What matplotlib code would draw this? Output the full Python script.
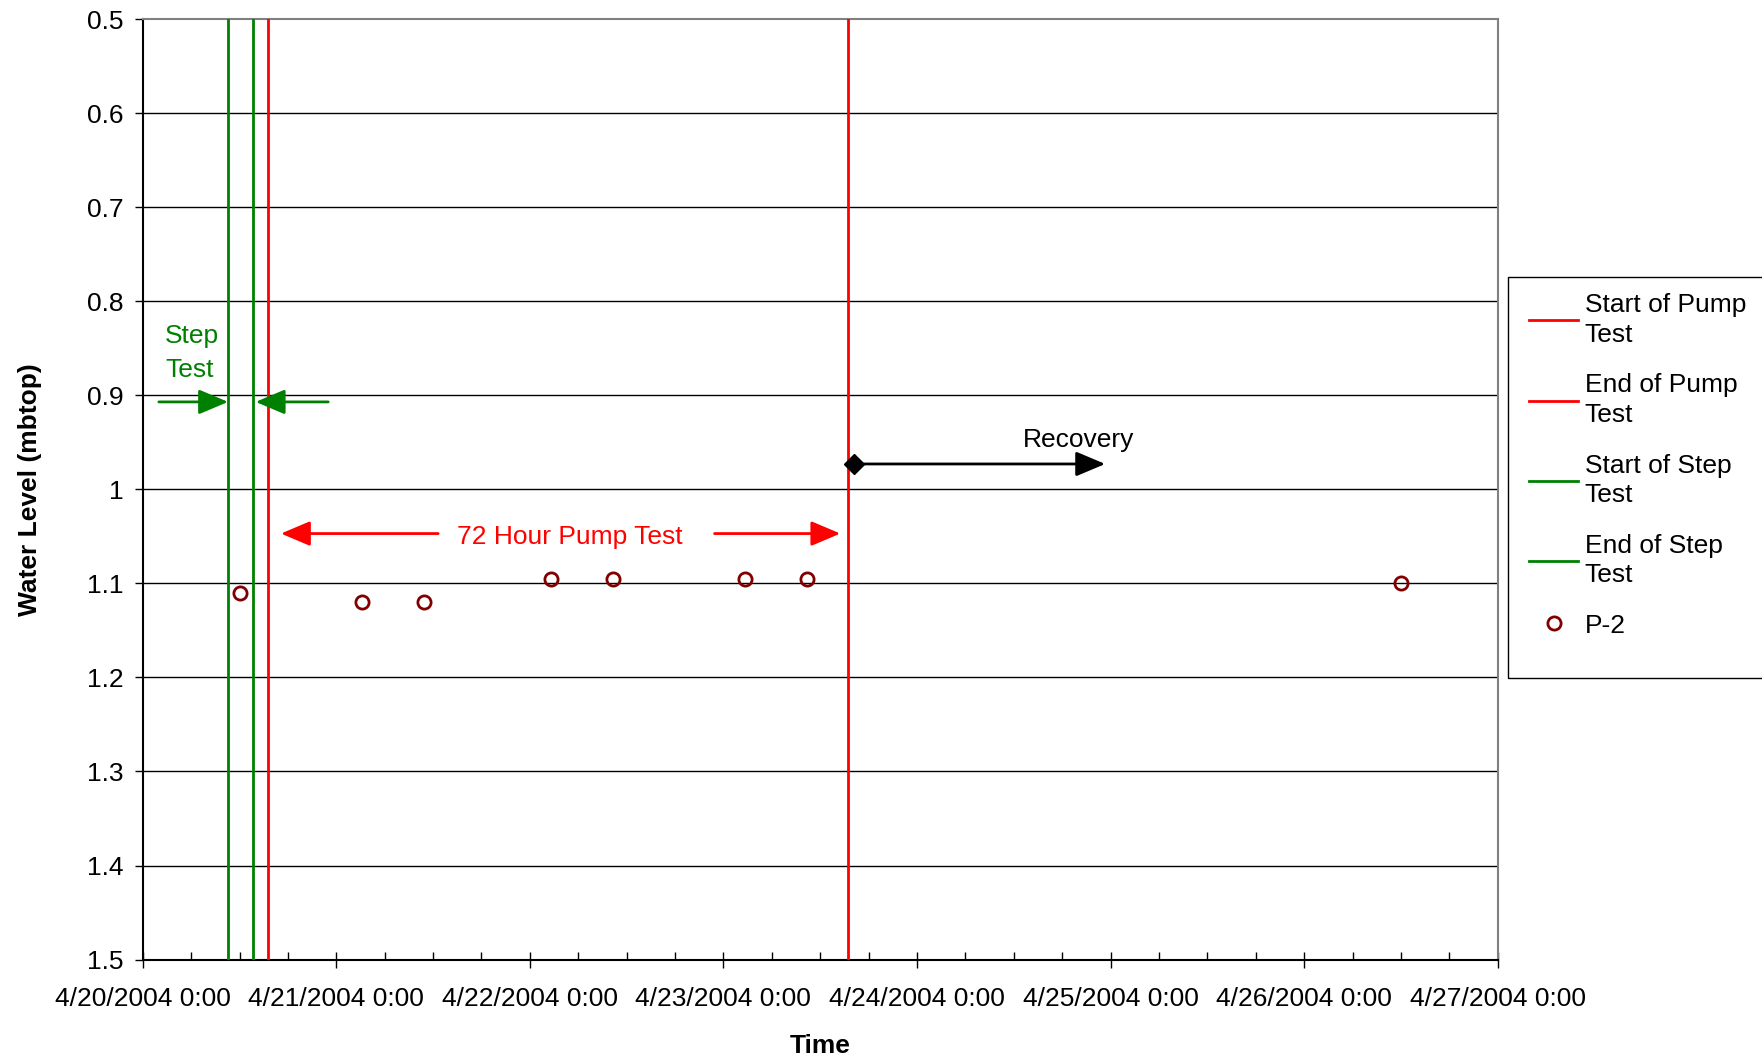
import matplotlib
matplotlib.use("Agg")
import matplotlib.pyplot as plt
import matplotlib.dates as mdates
import pandas as pd
from matplotlib.lines import Line2D
from matplotlib.patches import Rectangle

plt.rcParams['font.family'] = ['Liberation Sans', 'DejaVu Sans']

# ---- data ----
p2_times = ["2004-04-20 12:05", "2004-04-21 03:10", "2004-04-21 10:50",
            "2004-04-22 02:35", "2004-04-22 10:15", "2004-04-23 02:40",
            "2004-04-23 10:20", "2004-04-26 12:00"]
p2_levels = [1.11, 1.12, 1.12, 1.095, 1.095, 1.095, 1.095, 1.10]

pump_start = "2004-04-20 15:30"
pump_end = "2004-04-23 15:30"
step_start = "2004-04-20 10:35"
step_end = "2004-04-20 13:40"

y_ticks = [0.5, 0.6, 0.7, 0.8, 0.9, 1.0, 1.1, 1.2, 1.3, 1.4, 1.5]
y_tick_labels = ["0.5", "0.6", "0.7", "0.8", "0.9", "1", "1.1", "1.2", "1.3", "1.4", "1.5"]
x_start = "2004-04-20 00:00"
x_end = "2004-04-27 00:00"

# annotation anchors
step_arrow_left = ("2004-04-20 02:00", "2004-04-20 10:35", 0.907)
step_arrow_right = ("2004-04-20 23:00", "2004-04-20 14:00", 0.907)
step_text = ("2004-04-20 02:47", 0.855, "Step\nTest")
pump_arrow_left = ("2004-04-21 12:38", "2004-04-20 17:08", 1.047)
pump_arrow_right = ("2004-04-22 22:54", "2004-04-23 14:30", 1.047)
pump_text = ("2004-04-22 04:55", 1.051, "72 Hour Pump Test")
recovery_arrow = ("2004-04-23 16:10", "2004-04-24 23:20", 0.973)
recovery_text = ("2004-04-24 20:00", 0.947, "Recovery")

T = pd.to_datetime

fig = plt.figure(figsize=(17.62, 10.59), dpi=100)
ax = fig.add_axes([0.081, 0.0939, 0.769, 0.888])

FS = 19
red = '#FF0000'
green = '#008000'
LW = 2.0

ax.axvline(T(pump_start), color=red, lw=LW, zorder=3)
ax.axvline(T(pump_end), color=red, lw=LW, zorder=3)
ax.axvline(T(step_start), color=green, lw=LW, zorder=3)
ax.axvline(T(step_end), color=green, lw=LW, zorder=3)
ax.plot(T(p2_times), p2_levels, 'o', ls='none', mfc='none', mec='#800000',
        ms=9.5, mew=2, zorder=4)

ax.set_xlim(T(x_start), T(x_end))
ax.set_ylim(1.5, 0.5)
ax.set_yticks(y_ticks)
ax.set_yticklabels(y_tick_labels)
for y in y_ticks[1:-1]:
    ax.axhline(y, color='black', lw=1.0, zorder=1)

ax.xaxis.set_major_locator(mdates.DayLocator())
ax.xaxis.set_major_formatter(mdates.DateFormatter('%-m/%d/%Y %-H:%M'))
ax.xaxis.set_minor_locator(mdates.HourLocator(byhour=[6, 12, 18]))
ax.tick_params(axis='x', which='major', direction='inout', length=12, width=1,
               pad=14, labelsize=FS)
ax.tick_params(axis='x', which='minor', direction='in', length=6, width=1)
ax.tick_params(axis='y', which='major', direction='out', length=6, width=1,
               pad=8, labelsize=FS)

for s in ['top', 'right']:
    ax.spines[s].set_color('#808080')
    ax.spines[s].set_linewidth(1.5)
for s in ['left', 'bottom']:
    ax.spines[s].set_color('black')
    ax.spines[s].set_linewidth(1.5)

ax.set_xlabel('Time', fontsize=FS, fontweight='bold', labelpad=16)
ax.set_ylabel('Water Level (mbtop)', fontsize=FS, fontweight='bold', labelpad=32)

def arrow(x0, x1, y, color, style='-|>,head_length=0.9,head_width=0.38'):
    ax.annotate('', xy=(T(x1), y), xytext=(T(x0), y),
                arrowprops=dict(arrowstyle=style, color=color, lw=LW,
                                mutation_scale=20, shrinkA=0, shrinkB=0),
                zorder=5)

arrow(step_arrow_left[0], step_arrow_left[1], step_arrow_left[2], green)
arrow(step_arrow_right[0], step_arrow_right[1], step_arrow_right[2], green)
ax.text(T(step_text[0]), step_text[1], step_text[2], color=green, fontsize=FS,
        ha='left', va='center', linespacing=1.5)

arrow(pump_arrow_left[0], pump_arrow_left[1], pump_arrow_left[2], red)
arrow(pump_arrow_right[0], pump_arrow_right[1], pump_arrow_right[2], red)
ax.text(T(pump_text[0]), pump_text[1], pump_text[2], color=red, fontsize=FS,
        ha='center', va='center')

arrow(recovery_arrow[0], recovery_arrow[1], recovery_arrow[2], 'black')
ax.plot([T(recovery_arrow[0])], [recovery_arrow[2]], marker='D', color='black',
        ms=10, zorder=6)
ax.text(T(recovery_text[0]), recovery_text[1], recovery_text[2], color='black',
        fontsize=FS, ha='center', va='center')

handles = [
    Line2D([], [], color=red, lw=LW),
    Line2D([], [], color=red, lw=LW),
    Line2D([], [], color=green, lw=LW),
    Line2D([], [], color=green, lw=LW),
    Line2D([], [], marker='o', ls='none', mfc='none', mec='#800000', ms=9.5, mew=2),
]
labels = ["Start of Pump\nTest", "End of Pump\nTest", "Start of Step\nTest",
          "End of Step\nTest", "P-2"]
leg = fig.legend(handles, labels, loc='upper left', bbox_to_anchor=(0.868, 0.723),
                 fontsize=FS, frameon=False,
                 handlelength=1.85, handletextpad=0.25, labelspacing=1.0,
                 borderpad=0.0, borderaxespad=0)
for t in leg.get_texts():
    t.set_linespacing(1.3)

# legend frame (extends past the right edge like the reference)
fig.patches.append(Rectangle((0.856, 0.3598), 0.3, 0.3787, transform=fig.transFigure,
                             fill=False, edgecolor='black', lw=1.0))

fig.savefig('out.png', dpi=100)
